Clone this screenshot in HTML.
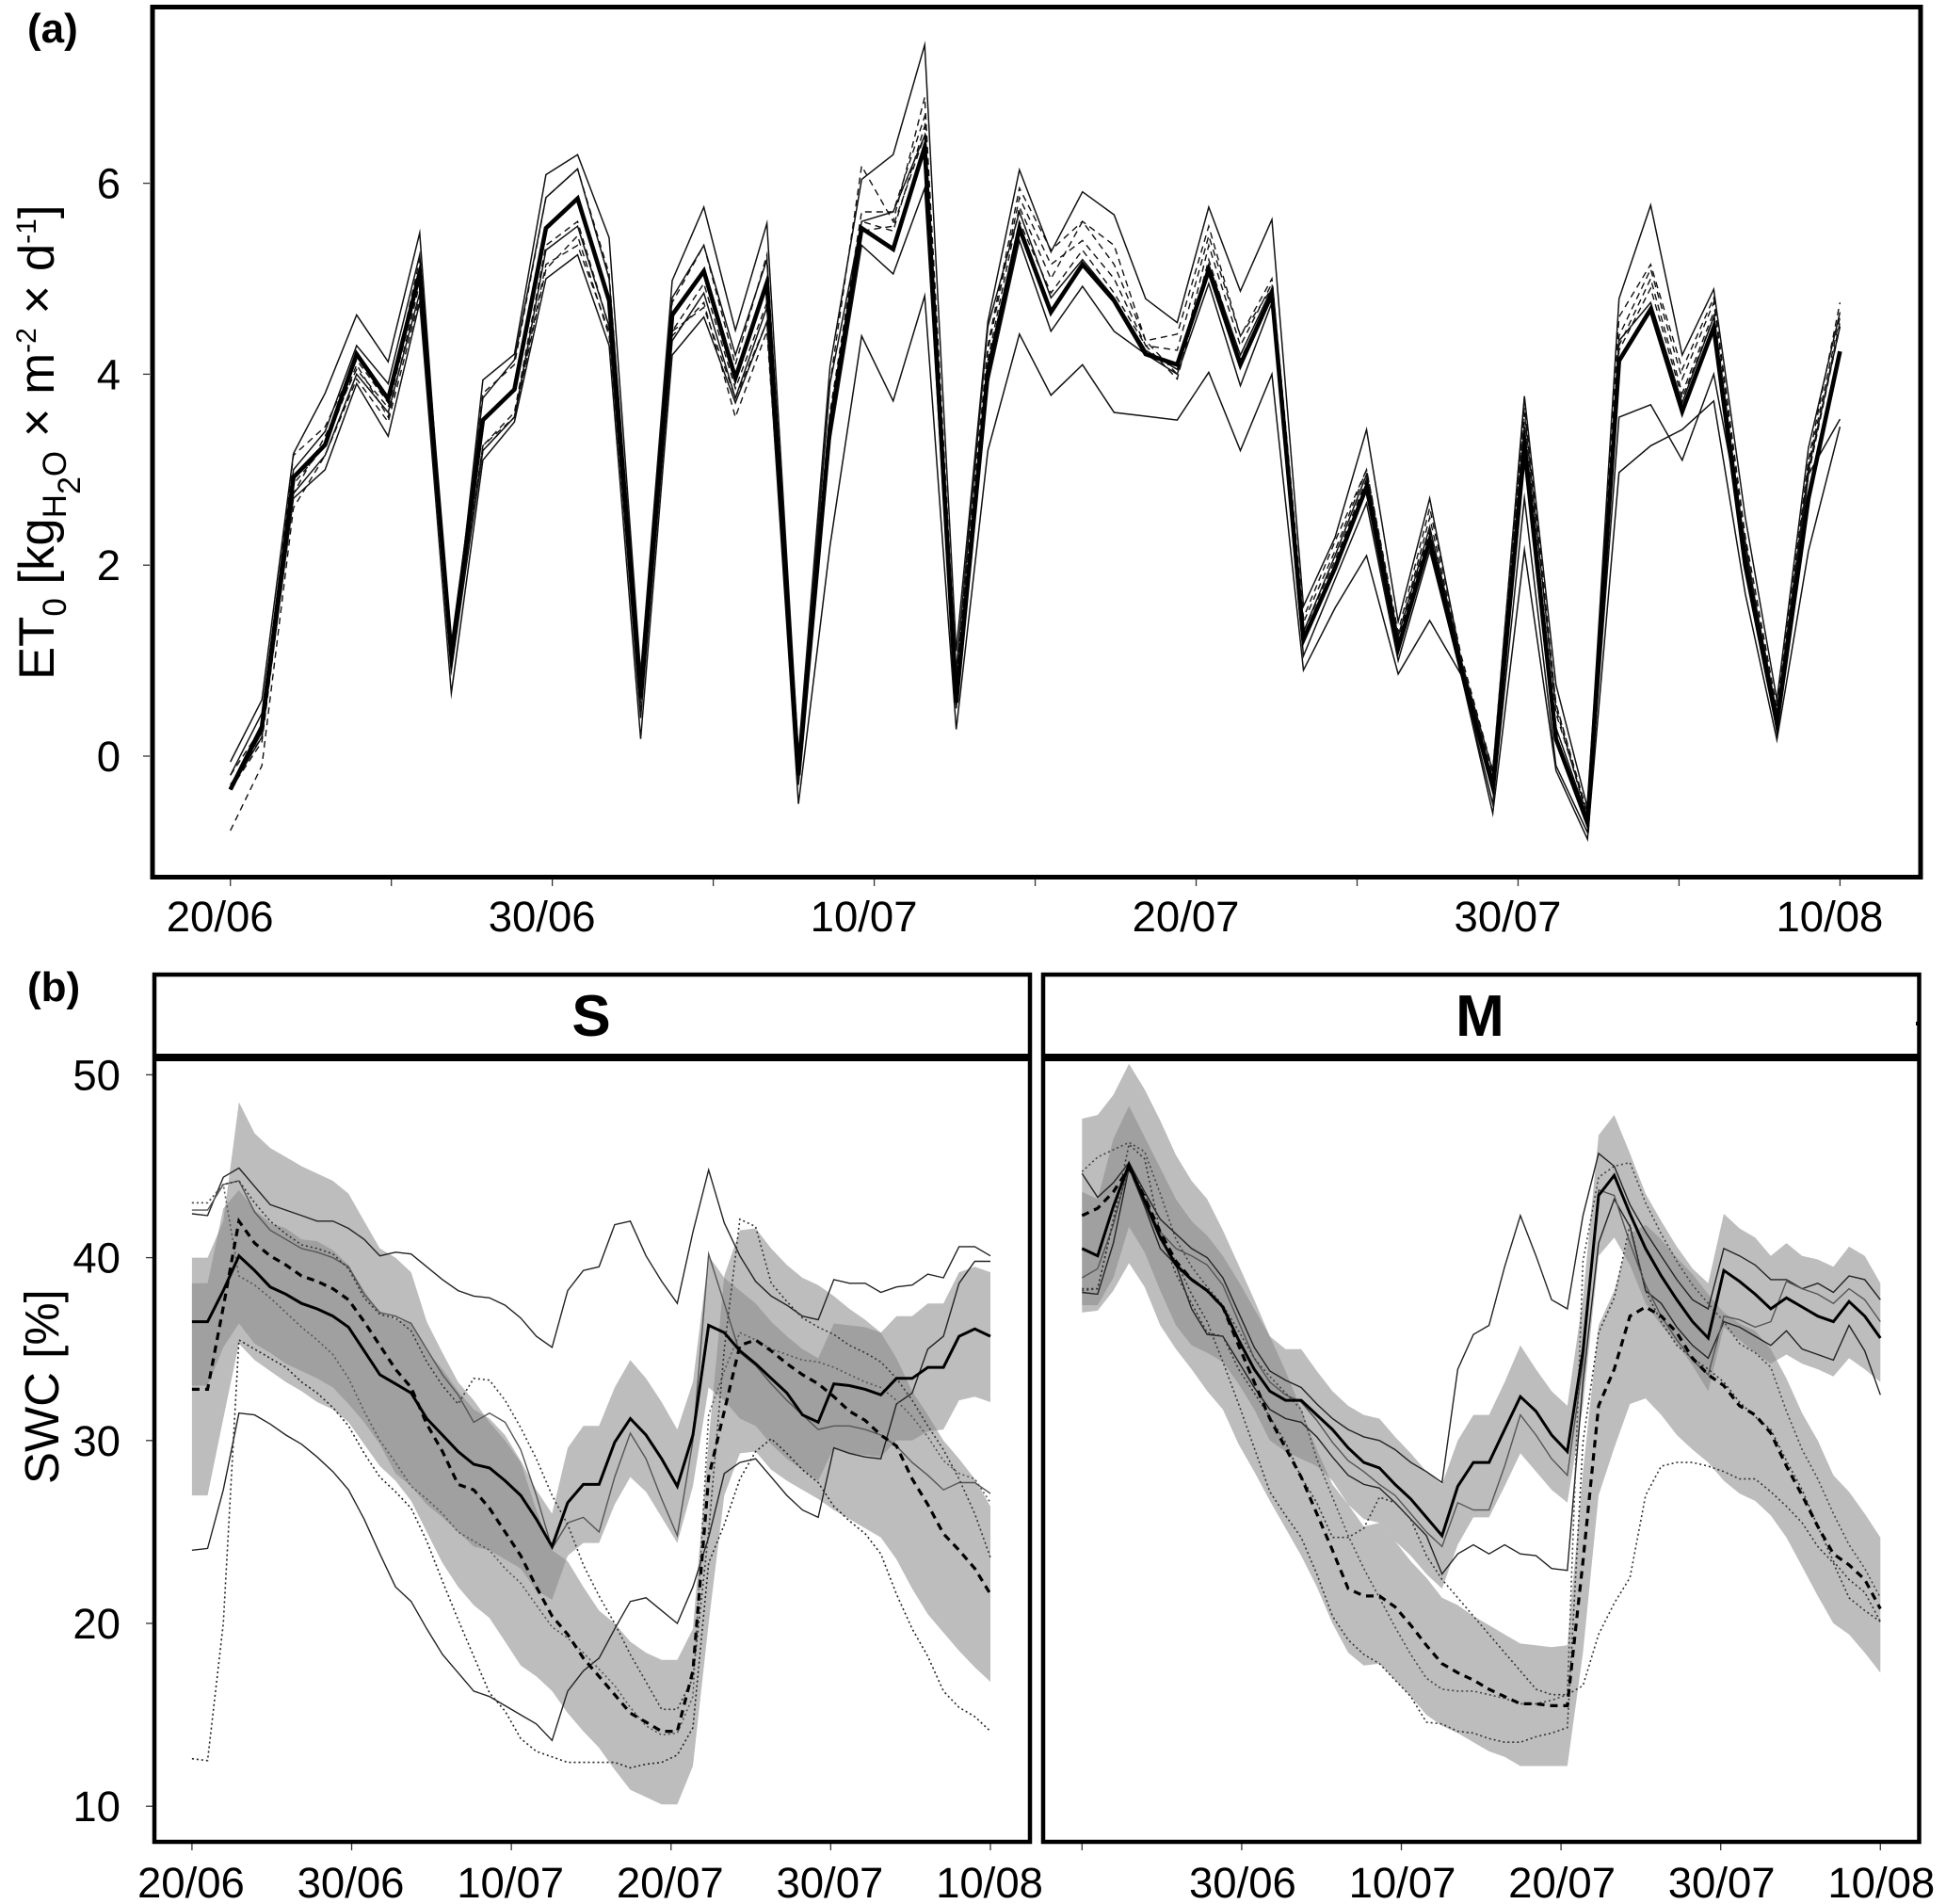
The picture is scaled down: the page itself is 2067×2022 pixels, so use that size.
<!DOCTYPE html>
<html lang="en">
<head>
<meta charset="utf-8">
<title>ET0 and SWC time series</title>
<style>
html,body{margin:0;padding:0;background:#fff;}
svg{display:block;font-family:"Liberation Sans",Arial,sans-serif;}
text{fill:#000;}
</style>
</head>
<body>
<svg id="fig" xmlns="http://www.w3.org/2000/svg" width="2067" height="2022" viewBox="0 0 2067 2022">
  <rect x="0" y="0" width="2067" height="2022" fill="#fff"/>
  <g id="marks-a"></g>
  <g id="marks-s"></g>
  <g id="marks-m"></g>
  <g id="axes"></g>

  <rect x="162" y="7.5" width="1878" height="924" fill="none" stroke="#000" stroke-width="5"/>
  <rect x="164" y="1035" width="930" height="921" fill="none" stroke="#000" stroke-width="4.5"/>
  <rect x="1108" y="1035" width="930.5" height="921" fill="none" stroke="#000" stroke-width="4.5"/>
  <line x1="163" y1="1123" x2="1094" y2="1123" stroke="#000" stroke-width="8"/>
  <line x1="1108" y1="1123" x2="2038" y2="1123" stroke="#000" stroke-width="8"/>
  <rect x="1092" y="1085" width="4" height="4" fill="#000"/>
  <rect x="2035" y="1085" width="4" height="4" fill="#000"/>

  <text x="628" y="1100" font-size="62" font-weight="700" text-anchor="middle">S</text>
  <text x="1572" y="1100" font-size="62" font-weight="700" text-anchor="middle">M</text>
  <text x="29" y="45" font-size="44" font-weight="700">(a)</text>
  <text x="29" y="1063" font-size="44" font-weight="700">(b)</text>

  <text transform="translate(57,722) rotate(-90)" font-size="52.7">ET<tspan font-size="35" dy="13">0</tspan><tspan dy="-13"> [kg</tspan><tspan font-size="35" dy="13">H</tspan><tspan font-size="34" dy="15">2</tspan><tspan font-size="35" dy="-15">O</tspan><tspan dy="-13"> × m</tspan><tspan font-size="30" dy="-19">-2</tspan><tspan dy="19"> × d</tspan><tspan font-size="30" dy="-19">-1</tspan><tspan dy="19">]</tspan></text>
  <text transform="translate(62,1576) rotate(-90)" font-size="51">SWC [%]</text>
</svg>

<script>
// ---------- Panel (a): ET0 daily series ----------
const etMean = [-0.35,0.31,2.92,3.26,4.21,3.74,5.06,1.06,3.52,3.84,5.53,5.84,4.77,0.62,4.62,5.08,3.96,4.96,-0.2,3.45,5.53,5.31,6.38,0.56,4.02,5.53,4.65,5.15,4.77,4.21,4.10,5.09,4.10,4.84,1.22,1.97,2.82,1.13,2.26,0.9,-0.32,3.23,0.18,-0.7,4.14,4.68,3.61,4.49,2.0,0.34,2.7,4.24];
const etMax = [-0.06,0.59,3.17,3.8,4.62,4.13,5.48,0.94,3.94,4.21,6.09,6.3,5.43,0.87,4.98,5.75,4.46,5.58,0.02,4.08,6.04,6.3,7.45,1.1,4.55,6.14,5.28,5.91,5.67,4.79,4.54,5.75,4.87,5.62,1.57,2.29,3.42,1.41,2.7,1.0,-0.16,3.77,0.75,-0.54,4.79,5.77,4.2,4.89,2.5,0.59,3.23,4.65];
const etMin = [-0.35,0.2,2.7,3.0,3.9,3.35,4.75,0.66,3.1,3.5,5.0,5.25,4.3,0.18,4.2,4.6,3.7,4.55,-0.5,2.2,4.4,3.72,4.82,0.28,3.2,4.42,3.78,4.1,3.6,3.56,3.52,4.02,3.2,4.0,0.9,1.55,2.1,0.86,1.42,0.85,-0.6,2.16,-0.15,-0.87,2.97,3.25,3.42,3.72,1.7,0.17,2.15,3.45];
const etLow = [-0.35,0.25,2.75,3.15,4.0,3.6,4.85,0.9,3.2,3.55,5.3,5.55,4.5,0.4,4.35,4.85,3.75,4.7,-0.3,3.3,5.35,5.05,5.95,0.5,3.9,5.4,4.45,4.92,4.45,4.21,4.0,4.95,3.88,4.75,1.05,1.85,2.65,1.0,2.15,0.85,-0.5,2.7,-0.1,-0.8,3.55,3.68,3.1,4.0,2.25,0.25,2.95,3.53];
const etHigh = [-0.2,0.45,3.0,3.4,4.3,3.9,5.25,1.1,3.75,4.15,5.85,6.15,5.0,0.85,4.8,5.35,4.2,5.2,-0.1,3.9,5.6,5.7,6.5,0.9,4.5,5.7,4.8,5.2,4.8,4.25,4.05,5.15,4.2,4.9,1.3,2.1,2.95,1.25,2.4,1.0,-0.25,3.45,0.3,-0.65,4.35,4.75,3.7,4.6,2.15,0.45,3.0,4.5];
const etDash1 = [-0.78,-0.1,2.6,3.15,3.95,3.5,4.8,0.95,3.25,3.55,5.1,5.45,4.4,0.5,4.4,4.75,3.55,4.45,-0.15,3.5,5.5,5.55,6.5,0.85,4.15,5.75,5.0,5.6,5.15,4.35,4.0,5.35,4.3,4.95,1.3,2.05,2.9,1.2,2.4,0.95,-0.25,3.5,0.55,-0.65,4.3,5.0,3.8,4.65,2.15,0.4,2.95,4.55];
const etDash2 = [-0.2,0.3,3.15,3.45,4.15,3.7,5.2,1.0,3.8,4.1,5.85,6.15,5.05,0.7,4.75,5.35,4.1,5.25,-0.15,3.9,6.18,5.6,6.9,0.85,4.3,5.95,5.3,5.6,5.35,4.35,4.42,5.55,4.4,5.0,1.45,2.25,3.0,1.3,2.6,1.05,-0.15,3.75,0.55,-0.6,4.6,5.15,4.05,4.8,2.3,0.5,3.1,4.75];
const etDash3 = [-0.35,0.15,2.75,3.35,4.05,3.65,5.0,1.0,3.25,3.6,5.35,5.6,4.5,0.55,4.45,4.95,3.85,4.75,-0.2,3.6,5.7,5.7,6.7,0.8,4.25,5.85,5.15,5.4,5.0,4.3,4.25,5.45,4.4,4.9,1.4,2.15,3.0,1.25,2.5,1.0,-0.2,3.65,0.45,-0.6,4.4,5.1,3.95,4.75,2.2,0.45,3.05,4.6];
const etDash4 = [-0.3,0.2,2.85,3.25,4.1,3.55,4.95,0.95,3.2,3.55,5.15,5.35,4.45,0.6,4.45,4.7,3.75,4.55,-0.25,3.45,5.6,5.5,6.6,0.75,4.1,5.6,4.85,5.3,4.85,4.3,3.95,5.2,4.15,4.85,1.25,2.0,2.9,1.2,2.35,0.95,-0.3,3.6,0.5,-0.65,4.25,4.9,3.75,4.6,2.1,0.4,2.95,4.5];
const etTickLabels = ['20/06','','30/06','','10/07','','20/07','','30/07','','10/08'];
const etYTicks = [0,2,4,6];

// ---------- Panel (b) S: soil water content ----------
const sSolidMean = [36.5,36.5,38.2,40.1,39.3,38.4,38,37.5,37.2,36.8,36.2,34.9,33.6,33.1,32.6,31.2,30.3,29.4,28.7,28.5,27.8,27,25.7,24.2,26.6,27.6,27.6,29.9,31.2,30.3,29,27.5,30.3,36.3,35.9,34.9,34.2,33.4,32.6,31.4,31,33.1,33,32.8,32.5,33.4,33.4,34,34,35.7,36.1,35.7];
const sDashMean = [32.8,32.8,37.3,42,40.8,40.1,39.6,39,38.7,38.3,37.7,36.5,35.2,33.9,32.9,30.9,29.4,27.6,27.3,26.3,25,23.7,22,20.4,19.4,18.1,17.1,16.1,15.1,14.6,14.1,14.1,17.4,28,31.6,35.2,35.5,34.9,34.2,33.6,33.1,32.4,31.6,31.1,30.3,29.7,27.9,26.5,24.9,24,23,21.6];
const sDashHigh = [40,40,42,48.5,46.8,46,45.5,45,44.6,44.2,43.5,42,40.5,40,39.2,36.5,34.8,33.2,32.2,31,30,28.8,26.2,24,23.4,22,20.7,20,19,18.4,18,18,19.7,30,39,41.5,41.6,40.5,39.6,38.9,38.5,37.9,37.2,36.6,35.9,34.5,32.7,31.4,30,29,27.9,26.4];
const sDashLow = [27,27,31.2,35.3,34.4,33.8,33.2,32.7,32.1,31.7,31,29.8,28.6,27.8,26.7,25,23.3,22,21,20.3,19,17.7,17.1,16.3,15.1,14.1,13.2,12,10.9,10.5,10.1,10.1,12.2,20,27,29.3,29.4,28.4,27.8,27.3,26.8,26.2,25.7,25.2,24.7,23.5,21.9,20.5,19.5,18.5,17.6,16.8];
const sSolidHigh = [38.6,38.6,42.7,43.7,42.6,41.9,41.6,41,40.9,40.4,39.6,38.2,37,36.6,36.5,34.9,33.9,32.7,31.7,31.2,30.3,28.9,27.3,26,29.6,30.8,30.8,32.9,34.4,33.4,32.1,30.6,33.2,40.1,38.9,38.2,37.5,36.5,35.7,35,34.5,36.4,36.3,36.2,35.9,36.8,36.8,37.5,37.5,39.2,39.5,39.2];
const sSolidLow = [33,33,35.1,36.4,35.3,34.8,34.2,33.8,33.4,32.9,32,31,29.8,28.2,27.5,26.5,25.8,25,24.2,24,23.5,23,21.8,21.3,23.7,24.4,24.4,26.5,28,27.2,25.8,24.4,27.5,32.9,32.2,31.2,30.8,29.8,29,28.4,27.8,29.6,29.3,29.2,29.1,30,30,30.5,30.6,32.2,32.4,32.1];
const sThinTop = [42.4,42.3,44.4,44.9,43.9,42.9,42.6,42.3,42,42,41.6,41,40.1,40.3,40.2,39.5,38.8,38.2,37.9,37.8,37.4,36.7,35.7,35.1,38.2,39.3,39.5,41.8,42,40.1,38.7,37.5,41.4,44.8,41.9,40.1,38.7,37.9,37.4,36.8,36.6,38.8,38.6,38.6,38.1,38.4,38.5,39.1,38.9,40.6,40.6,40.1];
const sThinBottom = [24,24.1,27.3,31.5,31.4,30.9,30.3,29.8,29.1,28.3,27.3,25.7,23.8,22,21.2,19.7,18.3,17.3,16.3,16,15.5,15,14.5,13.6,16.3,17.4,18.1,19.7,21.2,21.4,20.7,20,22,24.7,28.2,28.8,29,28,27,26.2,25.8,29.6,29.3,29.1,29,32,32.6,35,35.7,38.6,39.8,39.8];
const sThinGray = [42.6,42.6,44,44.2,42.5,41.5,41,40.5,40.3,40,39.5,38,37,36.8,36.4,35,33.6,32.5,31,31.5,31,29.5,27,24.1,25.5,25.8,25,28,30.4,29,26.8,24.8,30,40.2,37.5,34.8,34.1,33.1,32.2,31.4,30.6,30.8,30.8,30.6,30.3,29.7,28.8,28.1,27.3,27.7,27.7,27.1];
const sDotLow = [12.6,12.5,20,35.5,35,34.5,34,33.2,32.6,31.8,30.8,29.3,28,27.2,26.3,24.5,22.3,20.2,18.2,16.2,15.2,13.7,13,12.7,12.4,12.4,12.4,12.4,12.1,12.3,12.4,12.8,14.3,23.3,25.4,27.9,29.4,30.1,29.3,28.4,27.7,26.4,25.6,24.9,23.8,21.6,19.7,18.2,16.3,15.4,14.9,14.1];
const sDotHigh = [43,43,44,44.2,43,42,41.3,40.7,40.5,40.2,39.4,37.8,36.9,36.7,36,34.3,33,32,33.4,33.3,32.2,30.7,29,27,25.4,23.2,21.5,20,18.3,16.8,15.3,15.3,17,25,35,42.1,41.7,38.6,37.6,36.7,36.2,35.8,35.2,34.8,34.3,33.4,32.2,30.8,29.5,27.9,26,23.6];
const sDotMid = [43,43,44,39,38.5,37.8,37,36.2,35.5,34.7,33.4,31.6,30,28.8,27.5,26.8,26,25,24.5,24,23,22.2,21,19.8,19.2,18.4,17.5,16.6,15.4,14.4,13.9,14,16,31.4,33.8,35.9,35.5,35,34.7,34.4,34.3,34,33.6,33.2,32.9,32.2,31.3,30.2,28.9,28.2,27.9,26.6];
const sTickLabels = ['20/06','30/06','10/07','20/07','30/07','10/08'];
const swcYTicks = [10,20,30,40,50];

// ---------- Panel (b) M: soil water content ----------
const mSolidMean = [40.5,40.1,42.8,45.1,43.1,41.1,39.6,38.8,38.2,37.3,35.5,33.9,32.7,32.2,32.2,31.4,30.6,29.6,28.8,28.5,27.6,26.8,25.8,24.8,27.5,28.8,28.8,30.6,32.4,31.6,30.3,29.4,34.9,43.4,44.5,42.4,40.5,39,37.7,36.5,35.6,39.3,38.7,38,37.2,37.8,37.3,36.8,36.5,37.6,36.8,35.6];
const mDashMean = [42.3,42.7,43.6,44.9,43.3,41.4,39.8,38.8,38.2,37.3,35.2,33.2,31.2,29.6,28,26,24,21.9,21.5,21.5,20.9,19.9,18.8,17.8,17.3,16.9,16.4,16,15.6,15.6,15.5,15.5,23.4,31.9,33.9,36.8,37.3,36.8,35.9,34.5,33.6,33,31.9,31.4,30.4,28.6,27,25.3,23.8,23.2,22.4,20.8];
const mDashHigh = [47.6,47.8,48.9,50.6,49.2,47.5,45.6,44.2,43.2,41.5,39.6,37.7,35.7,33.8,31.7,29.5,27.6,26.5,25.3,25.5,24.5,23.4,22.5,21.4,21,20.4,19.9,19.4,18.9,18.8,18.7,18.8,28.3,36.3,38.2,41.3,41.8,41,40,39.1,38,37,36.4,36,35,33.4,31.5,30,28.1,27.2,26,24.7];
const mDashLow = [37,37.1,38.2,39.7,38.4,36.3,35,33.9,32.7,31.7,29.8,28.3,26.7,25.2,23.7,22,20,18.4,17.7,17.8,16.9,16,15,14.4,14,13.5,13,12.7,12.2,12.2,12.2,12.2,18.4,27,29.6,32,32.3,31.4,30.3,29.5,28.8,27.8,27.1,26.7,25.9,24.7,23.1,21.5,20,19.4,18.4,17.3];
const mSolidHigh = [43.6,43.2,46.5,48.3,46.6,44.9,43.2,42,41.2,40.1,38.7,37.2,35.7,35,35,33.8,32.7,31.9,31.4,31.2,30.2,29.3,28.3,27.6,30,31.4,31.4,33.2,35.2,33.9,32.7,31.9,37.8,46.7,47.8,45.7,43.5,42,40.6,39.4,38.6,42.4,41.6,41.1,40.1,40.8,40.1,39.9,39.5,40.6,40.1,38.6];
const mSolidLow = [37.4,37.4,38.9,41.7,40.3,38.2,36.3,35.2,34.8,34.3,33.1,31.7,30,29.4,29,28.6,27.8,26.5,25.7,25.5,24.5,23.7,22.7,21.9,24.3,25.8,25.8,27.5,29.3,28.3,27.3,26.6,31.9,40.1,41.1,39.6,37.5,36.3,35.3,34.1,32.7,36.2,35.5,34.8,34.2,34.7,34.2,33.9,33.5,34.5,33.9,33.2];
const mThinTop = [44.6,43.3,44.1,45.2,43.6,42.1,41.3,40.5,40,38.9,37,35.1,33.8,33.3,32.9,32,31.2,30.6,30.2,30,29.5,28.8,28.3,27.7,33.9,35.8,36.3,39.5,42.3,40.1,37.7,37.2,42.3,45.7,45,42.9,41.4,40.1,38.8,37.7,37.2,40.5,40.1,39.6,38.8,38.8,38.3,38.6,38.1,39,38.8,37.7];
const mThinBottom = [38.1,38,40.8,44.9,42.8,40.5,39.6,37.2,35.8,35.7,34.3,32.9,31.7,31.2,31,30.2,29.1,28.1,27.6,27.4,26.6,25.7,24.8,22.7,23.8,24.3,23.8,24.3,23.8,23.7,23,22.9,33.2,40.8,43.2,41.7,38.2,37.5,36.2,35.2,34.5,36.5,36.2,35.7,35.2,36,35,34.7,34.4,36.3,34.9,32.5];
const mThinGray = [38.9,39.4,41.8,45.1,43.1,41.4,40.5,40.1,39.6,38.5,36.5,34.5,33.2,32.5,32.1,31.1,29.9,28.9,28.3,27.6,27,26,25,24.2,26.6,26.2,26.2,28.6,31.4,30.3,29,28.1,34.2,43.7,43.4,40.8,38.5,36.8,35.5,34.4,33.6,36.8,36.6,36.2,36.5,38.7,38.3,38,37.5,38.3,37.7,36.5];
const mDotLow = [38.2,38.3,42,45,43.5,41,39.8,38,36.5,34.3,32,29.6,27.2,25.9,24.7,22.7,20.4,19.1,18.3,17.8,16.9,16,14.6,14.5,14.1,14,13.7,13.5,13.5,13.8,14,14.3,29.9,35.9,37.8,41.8,38.2,36.5,35.2,34.5,33.9,33.2,32.1,31.3,30.6,28.9,27.3,25.3,23.4,22.4,21.7,20.1];
const mDotRise = [38.3,38.3,42.1,46.2,45.4,41.4,39.1,37.5,35.9,35.7,33.9,32.6,31.3,29.9,28,26.6,24.7,24.7,25.2,26.9,26.6,25.7,23.7,22.4,21.4,20.4,19.4,18.4,17.4,16.4,16.1,16.1,16.6,19.4,21.1,22.5,27,28.6,28.8,28.8,28.6,28.3,27.9,27.9,27.2,26.4,25.5,24.2,23.3,21.4,20.7,20.1];
const mDotHigh = [44.7,45.5,45.9,46.3,45.8,43.5,41,39.5,38.4,37.4,36,34.5,33.5,32.6,31.7,29,26.9,24.8,23,21.4,19.8,18.3,17,16.4,16.3,16.3,16.1,15.9,15.6,15.6,15.8,16.1,39.8,44.4,45,45.2,43,41.3,39.8,38.5,37.5,36.5,35.3,34.8,34,31.6,29.5,27.9,26,24.3,23,21.4];
const mTickLabels = ['','30/06','10/07','20/07','30/07','10/08'];

// ---------- Axis functions ----------
const NS = 'http://www.w3.org/2000/svg';
const lastDay = 51;
const xA = d => 244.7 + (1954.4 - 244.7) * d / lastDay;
const yA = v => 803 - 101.4 * v;
const xS = d => 203.9 + (1052 - 203.9) * d / lastDay;
const xM = d => 1149.3 + (1997.3 - 1149.3) * d / lastDay;
const yB = v => 1141.4 + (50 - v) * 19.42;

function pts(values, xf, yf) {
  return values.map((v, i) => xf(i).toFixed(1) + ',' + yf(v).toFixed(1));
}
function drawLine(parent, name, values, xf, yf, color, width, dash) {
  const el = document.createElementNS(NS, 'polyline');
  
  
  el.setAttribute('points', pts(values, xf, yf).join(' '));
  el.setAttribute('fill', 'none');
  el.setAttribute('stroke', color);
  el.setAttribute('stroke-width', width);
  el.setAttribute('stroke-linejoin', 'miter');
  el.setAttribute('stroke-miterlimit', '10');
  if (dash) el.setAttribute('stroke-dasharray', dash);
  parent.appendChild(el);
}
function ribbonPoints(high, low, xf, yf) {
  return pts(high, xf, yf).concat(pts(low, xf, yf).reverse()).join(' ');
}
function drawRibbon(parent, name, high, low, xf, yf, color, clipId) {
  const el = document.createElementNS(NS, 'polygon');
  
  
  el.setAttribute('points', ribbonPoints(high, low, xf, yf));
  el.setAttribute('fill', color);
  if (clipId) el.setAttribute('clip-path', 'url(#' + clipId + ')');
  parent.appendChild(el);
}
function drawOverlap(parent, id, name, hA, lA, hB, lB, xf, yf) {
  const clip = document.createElementNS(NS, 'clipPath');
  clip.setAttribute('id', id);
  const shape = document.createElementNS(NS, 'polygon');
  shape.setAttribute('points', ribbonPoints(hA, lA, xf, yf));
  clip.appendChild(shape);
  parent.appendChild(clip);
  drawRibbon(parent, name + '-dashed-ribbon', hA, lA, xf, yf, '#bdbdbd');
  drawRibbon(parent, name + '-solid-ribbon', hB, lB, xf, yf, '#bdbdbd');
  drawRibbon(parent, name + '-ribbon-overlap', hB, lB, xf, yf, '#a0a0a0', id);
}
function tick(parent, name, x1, y1, x2, y2) {
  const el = document.createElementNS(NS, 'line');
  
  
  el.setAttribute('x1', x1);
  el.setAttribute('y1', y1);
  el.setAttribute('x2', x2);
  el.setAttribute('y2', y2);
  el.setAttribute('stroke', '#333');
  el.setAttribute('stroke-width', '1.3');
  parent.appendChild(el);
}
function label(parent, name, x, y, str, anchor, size) {
  const el = document.createElementNS(NS, 'text');
  
  
  el.setAttribute('x', x);
  el.setAttribute('y', y);
  el.setAttribute('text-anchor', anchor);
  el.setAttribute('font-size', size);
  el.textContent = str;
  parent.appendChild(el);
}
function xAxis(labels, xf, bottom, labelY, shift) {
  const ax = document.getElementById('axes');
  labels.forEach((t, i) => {
    const d = lastDay * i / (labels.length - 1);
    tick(ax, 'x-tick', xf(d), bottom, xf(d), bottom + 7);
    if (t) label(ax, 'x-tick-label', xf(d) + shift, labelY, t, 'middle', 45.5);
  });
}
function yAxis(ticks, yf, left) {
  const ax = document.getElementById('axes');
  ticks.forEach(v => {
    tick(ax, 'y-tick', left - 7, yf(v), left, yf(v));
    label(ax, 'y-tick-label', 128, yf(v) + 16, String(v), 'end', 45.5);
  });
}

// ---------- Panel (a) marks ----------
const gA = document.getElementById('marks-a');
drawLine(gA, 'et0-min', etMin, xA, yA, '#111', 1.5);
drawLine(gA, 'et0-low', etLow, xA, yA, '#111', 1.5);
drawLine(gA, 'et0-high', etHigh, xA, yA, '#111', 1.5);
drawLine(gA, 'et0-max', etMax, xA, yA, '#111', 1.5);
drawLine(gA, 'et0-dashed-1', etDash1, xA, yA, '#111', 1.4, '7 5');
drawLine(gA, 'et0-dashed-2', etDash2, xA, yA, '#111', 1.4, '7 5');
drawLine(gA, 'et0-dashed-3', etDash3, xA, yA, '#111', 1.4, '7 5');
drawLine(gA, 'et0-dashed-4', etDash4, xA, yA, '#111', 1.4, '7 5');
drawLine(gA, 'et0-mean', etMean, xA, yA, '#000', 4.6);
xAxis(etTickLabels, xA, 934, 989, -11);
yAxis(etYTicks, yA, 159);

// ---------- Panel (b) S marks ----------
const gS = document.getElementById('marks-s');
drawOverlap(gS, 'clip-s', 'swc-s', sDashHigh, sDashLow, sSolidHigh, sSolidLow, xS, yB);
drawLine(gS, 'swc-s-thin-top', sThinTop, xS, yB, '#222', 1.4);
drawLine(gS, 'swc-s-thin-bottom', sThinBottom, xS, yB, '#222', 1.4);
drawLine(gS, 'swc-s-thin-gray', sThinGray, xS, yB, '#555', 1.4);
drawLine(gS, 'swc-s-dotted-low', sDotLow, xS, yB, '#222', 1.6, '2 3');
drawLine(gS, 'swc-s-dotted-high', sDotHigh, xS, yB, '#333', 1.6, '2 3');
drawLine(gS, 'swc-s-dotted-mid', sDotMid, xS, yB, '#555', 1.6, '2 3');
drawLine(gS, 'swc-s-dashed-mean', sDashMean, xS, yB, '#000', 3.2, '8 6');
drawLine(gS, 'swc-s-solid-mean', sSolidMean, xS, yB, '#000', 3);
xAxis(sTickLabels, xS, 1958, 2015, -1);
yAxis(swcYTicks, yB, 162);

// ---------- Panel (b) M marks ----------
const gM = document.getElementById('marks-m');
drawOverlap(gM, 'clip-m', 'swc-m', mDashHigh, mDashLow, mSolidHigh, mSolidLow, xM, yB);
drawLine(gM, 'swc-m-thin-top', mThinTop, xM, yB, '#222', 1.4);
drawLine(gM, 'swc-m-thin-bottom', mThinBottom, xM, yB, '#222', 1.4);
drawLine(gM, 'swc-m-thin-gray', mThinGray, xM, yB, '#555', 1.4);
drawLine(gM, 'swc-m-dotted-low', mDotLow, xM, yB, '#333', 1.6, '2 3');
drawLine(gM, 'swc-m-dotted-rise', mDotRise, xM, yB, '#333', 1.6, '2 3');
drawLine(gM, 'swc-m-dotted-high', mDotHigh, xM, yB, '#444', 1.6, '2 3');
drawLine(gM, 'swc-m-dashed-mean', mDashMean, xM, yB, '#000', 3.2, '8 6');
drawLine(gM, 'swc-m-solid-mean', mSolidMean, xM, yB, '#000', 3);
xAxis(mTickLabels, xM, 1958, 2015, 1);
</script>
</body>
</html>
